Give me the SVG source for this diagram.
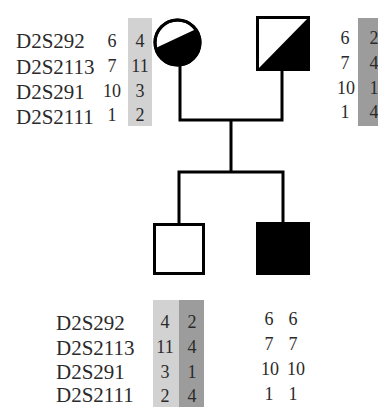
<svg xmlns="http://www.w3.org/2000/svg" width="378" height="407" viewBox="0 0 378 407">
<style>
.lbl{font-family:"Liberation Serif","Times New Roman",serif;font-size:21px;fill:#2a2a2a}
.num{font-family:"Liberation Serif","Times New Roman",serif;font-size:18px;fill:#2a2a2a;text-anchor:middle}
.ln{stroke:#000;stroke-width:3;fill:none;stroke-linecap:square}
.sym{stroke:#000;stroke-width:3}
.lg{fill:#d2d2d2}
.dg{fill:#9c9c9c}
</style>
<rect width="378" height="407" fill="#fff"/>
<g id="bands">
<rect class="lg" x="128" y="18" width="24" height="108"/>
<rect class="dg" x="358" y="18" width="20" height="108"/>
<rect class="lg" x="153" y="300" width="26" height="107"/>
<rect class="dg" x="179" y="300" width="25" height="107"/>
</g>
<g id="connectors">
<path class="ln" d="M180,66 V120 H282 M282,71 V120 M231,120 V172 M179,172 H283 M179,172 V223 M283,172 V222"/>
</g>
<g id="mother">
<circle class="sym" cx="177.5" cy="42.5" r="22.5" fill="#fff"/>
<path d="M155.7,48.1 L195.7,29.3 A22.5,22.5 0 1 1 155.7,48.1 Z" fill="#000"/>
<circle cx="177.5" cy="42.5" r="22.5" fill="none" stroke="#000" stroke-width="3"/>
</g>
<g id="father">
<rect class="sym" x="257.5" y="17.5" width="51" height="52" fill="#fff"/>
<polygon points="257.5,69.5 308.5,17.5 308.5,69.5" fill="#000"/>
</g>
<g id="son1">
<rect class="sym" x="154.5" y="224.5" width="49" height="49" fill="#fff"/>
</g>
<g id="son2">
<rect class="sym" x="257.5" y="223.5" width="51" height="50" fill="#000"/>
</g>
<g id="labels-top">
<text class="lbl" x="16" y="48">D2S292</text>
<text class="lbl" x="16" y="74">D2S2113</text>
<text class="lbl" x="16" y="99">D2S291</text>
<text class="lbl" x="16" y="124">D2S2111</text>
</g>
<g id="mother-alleles">
<text class="num" x="112" y="47">6</text>
<text class="num" x="112" y="72">7</text>
<text class="num" x="112" y="97">10</text>
<text class="num" x="112" y="121">1</text>
<text class="num" x="140" y="47">4</text>
<text class="num" x="140" y="72">11</text>
<text class="num" x="140" y="97">3</text>
<text class="num" x="140" y="121">2</text>
</g>
<g id="father-alleles">
<text class="num" x="345" y="44">6</text>
<text class="num" x="345" y="69">7</text>
<text class="num" x="346" y="94">10</text>
<text class="num" x="345" y="118">1</text>
<text class="num" x="374" y="44">2</text>
<text class="num" x="374" y="69">4</text>
<text class="num" x="374" y="94">1</text>
<text class="num" x="374" y="118">4</text>
</g>
<g id="labels-bottom">
<text class="lbl" x="56" y="330">D2S292</text>
<text class="lbl" x="56" y="355">D2S2113</text>
<text class="lbl" x="56" y="379">D2S291</text>
<text class="lbl" x="56" y="402">D2S2111</text>
</g>
<g id="son1-alleles">
<text class="num" x="165" y="328">4</text>
<text class="num" x="165" y="353">11</text>
<text class="num" x="165" y="378">3</text>
<text class="num" x="165" y="402">2</text>
<text class="num" x="192" y="328">2</text>
<text class="num" x="192" y="353">4</text>
<text class="num" x="192" y="378">1</text>
<text class="num" x="192" y="402">4</text>
</g>
<g id="son2-alleles">
<text class="num" x="269" y="325">6</text>
<text class="num" x="269" y="350">7</text>
<text class="num" x="270" y="375">10</text>
<text class="num" x="293" y="325">6</text>
<text class="num" x="293" y="350">7</text>
<text class="num" x="296" y="375">10</text>
<text class="num" x="269" y="400">1</text>
<text class="num" x="293" y="400">1</text>
</g>
</svg>
